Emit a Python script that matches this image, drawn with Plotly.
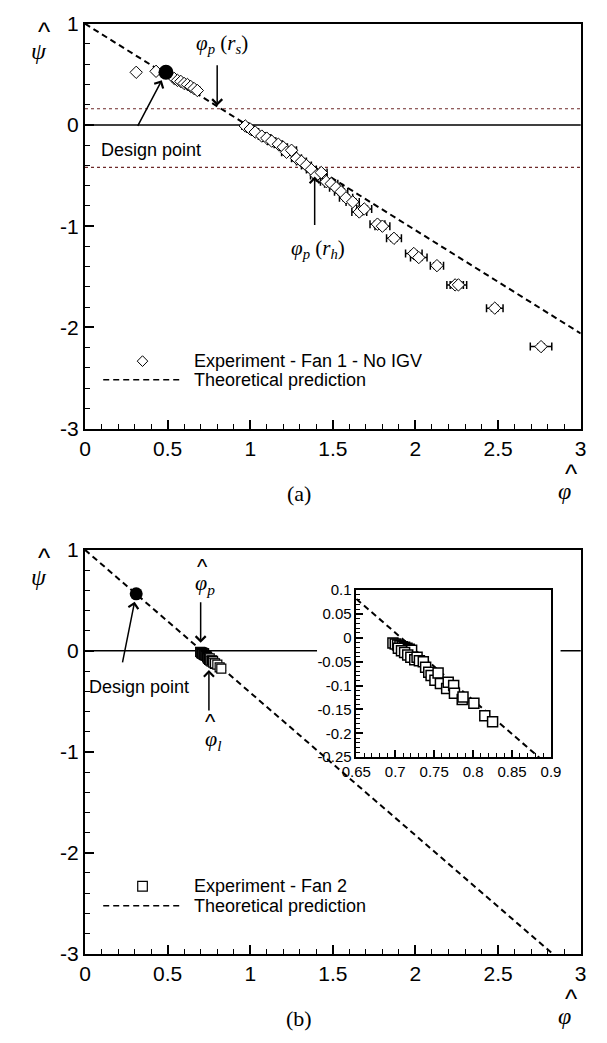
import plotly.graph_objects as go

W, H = 607, 1043

# ---------------- data ----------------
# (a) Fan 1, no IGV: flow coefficient vs. loading coefficient
phi_a = [0.31, 0.43, 0.54, 0.56, 0.58, 0.60, 0.62, 0.64, 0.66, 0.68,
         0.97, 1.00, 1.03, 1.07, 1.10, 1.13, 1.17, 1.20, 1.22, 1.25,
         1.28, 1.31, 1.34, 1.37, 1.40, 1.43, 1.46, 1.49, 1.52, 1.55,
         1.58, 1.62, 1.66, 1.69, 1.77, 1.80, 1.87, 1.99, 2.02, 2.13,
         2.24, 2.26, 2.48, 2.76]
psi_a = [0.52, 0.53, 0.46, 0.44, 0.43, 0.41, 0.40, 0.38, 0.36, 0.34,
         -0.01, -0.04, -0.07, -0.11, -0.13, -0.16, -0.19, -0.22, -0.27, -0.25,
         -0.33, -0.36, -0.40, -0.44, -0.50, -0.47, -0.56, -0.58, -0.62, -0.66,
         -0.72, -0.76, -0.86, -0.83, -0.98, -1.00, -1.12, -1.27, -1.31, -1.39,
         -1.58, -1.58, -1.81, -2.19]
phi_err_a = [0, 0, 0.012, 0.012, 0.012, 0.012, 0.012, 0.015, 0.015, 0.015,
             0.02, 0.02, 0.02, 0.02, 0.025, 0.025, 0.025, 0.025, 0.03, 0.03,
             0.03, 0.03, 0.03, 0.03, 0.035, 0.035, 0.035, 0.04, 0.04, 0.04,
             0.04, 0.04, 0.045, 0.045, 0.045, 0.045, 0.045, 0.05, 0.05, 0.04,
             0.05, 0.05, 0.05, 0.065]
psi_err_a = [0, 0] + [0.02] * 8 + [0.03] * 34

design_a = dict(phi=[0.49], psi=[0.52])
theory_a_phi = [0.0, 3.0]
theory_a_psi = [1.0, -2.06]
span_levels_a = [0.16, -0.42]

# (b) Fan 2
phi_b = [0.697, 0.700, 0.703, 0.706, 0.709, 0.712, 0.715, 0.718, 0.721, 0.704,
         0.708, 0.712, 0.716, 0.720, 0.725, 0.728, 0.731, 0.736, 0.739, 0.743,
         0.746, 0.751, 0.755, 0.758, 0.766, 0.768, 0.775, 0.776, 0.786, 0.787,
         0.801, 0.815, 0.825]
psi_b = [-0.011, -0.013, -0.015, -0.017, -0.019, -0.020, -0.022, -0.024, -0.026, -0.022,
         -0.027, -0.031, -0.036, -0.041, -0.046, -0.041, -0.048, -0.050, -0.062, -0.072,
         -0.079, -0.089, -0.074, -0.096, -0.106, -0.093, -0.100, -0.116, -0.129, -0.124,
         -0.137, -0.163, -0.176]
design_b = dict(phi=[0.31], psi=[0.565])
theory_b_phi = [0.0, 2.83]
theory_b_psi = [1.0, -3.0]

# ticks
main_xticks = [0, 0.5, 1, 1.5, 2, 2.5, 3]
main_xtext = ["0", "0.5", "1", "1.5", "2", "2.5", "3"]
main_yticks = [1, 0, -1, -2, -3]
main_ytext = ["1", "0", "-1", "-2", "-3"]
inset_xticks = [0.65, 0.7, 0.75, 0.8, 0.85, 0.9]
inset_xtext = ["0.65", "0.7", "0.75", "0.8", "0.85", "0.9"]
inset_yticks = [0.1, 0.05, 0, -0.05, -0.1, -0.15, -0.2, -0.25]
inset_ytext = ["0.1", "0.05", "0", "-0.05", "-0.1", "-0.15", "-0.2", "-0.25"]


# ---------------- helpers ----------------
def px(x):
    return x / W


def py(y):
    return 1 - y / H


SANS = "Liberation Sans, Arial, sans-serif"
SERIF = "Liberation Serif, Times New Roman, serif"
DASH = "6px,4px"

fig = go.Figure()

# ---------------- panel (a) ----------------
fig.add_trace(go.Scatter(
    x=theory_a_phi, y=theory_a_psi, mode="lines",
    line=dict(color="black", width=2, dash=DASH),
    xaxis="x", yaxis="y", showlegend=False, hoverinfo="skip"))
fig.add_trace(go.Scatter(
    x=phi_a, y=psi_a, mode="markers",
    marker=dict(symbol="diamond", size=9.5, color="white",
                line=dict(color="black", width=1)),
    error_x=dict(type="data", array=phi_err_a, color="black", thickness=1.5, width=4),
    error_y=dict(type="data", array=psi_err_a, color="black", thickness=1, width=4),
    xaxis="x", yaxis="y", showlegend=False))
fig.add_trace(go.Scatter(
    x=design_a["phi"], y=design_a["psi"], mode="markers",
    marker=dict(symbol="circle", size=15, color="black"),
    xaxis="x", yaxis="y", showlegend=False))

# ---------------- panel (b) ----------------
fig.add_trace(go.Scatter(
    x=theory_b_phi, y=theory_b_psi, mode="lines",
    line=dict(color="black", width=2, dash=DASH),
    xaxis="x2", yaxis="y2", showlegend=False, hoverinfo="skip"))
fig.add_trace(go.Scatter(
    x=phi_b, y=psi_b, mode="markers",
    marker=dict(symbol="square", size=9, color="white",
                line=dict(color="black", width=1.2)),
    xaxis="x2", yaxis="y2", showlegend=False))
fig.add_trace(go.Scatter(
    x=design_b["phi"], y=design_b["psi"], mode="markers",
    marker=dict(symbol="circle", size=13, color="black"),
    xaxis="x2", yaxis="y2", showlegend=False))

# ---------------- inset ----------------
fig.add_trace(go.Scatter(
    x=theory_b_phi, y=theory_b_psi, mode="lines",
    line=dict(color="black", width=2, dash=DASH),
    xaxis="x3", yaxis="y3", showlegend=False, hoverinfo="skip"))
fig.add_trace(go.Scatter(
    x=phi_b, y=psi_b, mode="markers",
    marker=dict(symbol="square", size=10, color="white",
                line=dict(color="black", width=1.5)),
    xaxis="x3", yaxis="y3", showlegend=False))

# ---------------- axes ----------------
main_x_dom = [px(73), px(590)]
axis_common = dict(
    showline=True, linecolor="black", linewidth=2, mirror=True,
    showgrid=False, zeroline=False, ticks="inside", tickcolor="black",
    tickwidth=1.5, ticklen=9,
    tickfont=dict(family=SANS, size=21, color="black"),
)


def main_x(anchor):
    return dict(axis_common, domain=main_x_dom, range=[0, 3], anchor=anchor,
                tickvals=main_xticks, ticktext=main_xtext,
                minor=dict(ticks="inside", ticklen=5, dtick=0.1, tick0=0,
                           tickcolor="black", tickwidth=1.2))


def main_y(anchor, dom):
    return dict(axis_common, domain=dom, range=[-3, 1], anchor=anchor,
                tickvals=main_yticks, ticktext=main_ytext,
                minor=dict(ticks="inside", ticklen=5, dtick=0.2, tick0=0,
                           tickcolor="black", tickwidth=1.2))


inset_common = dict(axis_common, linewidth=1.5, ticklen=7,
                    tickfont=dict(family=SANS, size=15, color="black"))

fig.update_layout(
    width=W, height=H,
    margin=dict(l=0, r=0, t=0, b=0),
    paper_bgcolor="white", plot_bgcolor="white",
    showlegend=False,
    xaxis=main_x("y"),
    yaxis=main_y("x", [py(426), py(12)]),
    xaxis2=main_x("y2"),
    yaxis2=main_y("x2", [py(963), py(550)]),
    xaxis3=dict(inset_common, domain=[px(356), px(559)], range=[0.65, 0.9],
                anchor="y3", tickvals=inset_xticks, ticktext=inset_xtext,
                minor=dict(ticks="inside", ticklen=4, dtick=0.01, tick0=0,
                           tickcolor="black", tickwidth=1)),
    yaxis3=dict(inset_common, domain=[py(762), py(591)], range=[-0.25, 0.1],
                anchor="x3", tickvals=inset_yticks, ticktext=inset_ytext,
                minor=dict(ticks="inside", ticklen=4, dtick=0.01, tick0=0,
                           tickcolor="black", tickwidth=1)),
)

# ---------------- reference lines ----------------
shapes = []
shapes.append(dict(type="line", xref="x domain", yref="y", x0=0, x1=1, y0=0, y1=0,
                   line=dict(color="black", width=1.5), layer="below"))
for lev in span_levels_a:
    shapes.append(dict(type="line", xref="x domain", yref="y", x0=0, x1=1,
                       y0=lev, y1=lev, line=dict(color="#6e2a2a", width=1.2, dash="3px,3px"),
                       layer="below"))
shapes.append(dict(type="line", xref="x2 domain", yref="y2", x0=0, x1=1, y0=0, y1=0,
                   line=dict(color="black", width=1.5), layer="below"))
# white backing behind the inset and its tick labels
shapes.append(dict(type="rect", xref="paper", yref="paper",
                   x0=px(315), x1=px(569), y0=py(787), y1=py(580),
                   fillcolor="white", line=dict(width=0), layer="below"))


# legend keys
def legend_block(y_marker, y_line, symbol, label):
    xc = 133
    if symbol == "diamond":
        r = 5.5
        path = (f"M {px(xc)},{py(y_marker - r)} L {px(xc + r)},{py(y_marker)} "
                f"L {px(xc)},{py(y_marker + r)} L {px(xc - r)},{py(y_marker)} Z")
        shapes.append(dict(type="path", xref="paper", yref="paper", path=path,
                           line=dict(color="black", width=1)))
    else:
        r = 5
        shapes.append(dict(type="rect", xref="paper", yref="paper",
                           x0=px(xc - r), x1=px(xc + r), y0=py(y_marker + r), y1=py(y_marker - r),
                           line=dict(color="black", width=1.2)))
    shapes.append(dict(type="line", xref="paper", yref="paper",
                       x0=px(92), x1=px(173), y0=py(y_line), y1=py(y_line),
                       line=dict(color="black", width=1.5, dash="6px,4px")))
    return [
        dict(x=px(185), y=py(y_marker), text=label),
        dict(x=px(185), y=py(y_line), text="Theoretical prediction"),
    ]


legend_texts = legend_block(357, 376, "diamond", "Experiment - Fan 1 - No IGV")
legend_texts += legend_block(894, 914, "square", "Experiment - Fan 2")

annotations = []
for t in legend_texts:
    annotations.append(dict(xref="paper", yref="paper", x=t["x"], y=t["y"], text=t["text"],
                            xanchor="left", yanchor="middle", showarrow=False,
                            font=dict(family=SANS, size=18, color="black")))


def label(xp, yp, text, size=22, family=SERIF, anchor="center"):
    annotations.append(dict(xref="paper", yref="paper", x=px(xp), y=py(yp), text=text,
                            xanchor=anchor, yanchor="middle", showarrow=False,
                            font=dict(family=family, size=size, color="black")))


def arrow(xref, yref, x, y, ax, ay, standoff=0):
    annotations.append(dict(xref=xref, yref=yref, x=x, y=y, ax=ax, ay=ay, text="",
                            showarrow=True, arrowhead=4, arrowsize=1.3, arrowwidth=1.5,
                            arrowcolor="black", standoff=standoff))


# axis symbols (hatted psi / phi)
for top, bottom in [(12, 426), (550, 963)]:
    label(31, top + 8, "^", size=26, family=SANS)
    label(25, top + 28, "<i>ψ</i>", size=24)
    label(580, bottom + 46, "^", size=26, family=SANS)
    label(573, bottom + 64, "<i>φ</i>", size=24)

label(296, 492, "(a)", size=22)
label(296, 1029, "(b)", size=22)

# panel (a) callouts
label(142, 141, "Design point", size=18, family=SANS)
arrow("x", "y", design_a["phi"][0], design_a["psi"][0], -29, 55, standoff=9)
label(216, 33, "<i>φ</i><sub><i>p</i></sub> (<i>r</i><sub><i>s</i></sub>)", size=21)
arrow("x", "y", 0.80, 0.19, 0, -42)
label(316, 242, "<i>φ</i><sub><i>p</i></sub> (<i>r</i><sub><i>h</i></sub>)", size=21)
arrow("x", "y", 1.39, -0.51, 0, 50)

# panel (b) callouts
label(129, 690, "Design point", size=18, family=SANS)
arrow("x2", "y2", design_b["phi"][0], design_b["psi"][0], -14, 70, standoff=8)
label(196, 567, "^", size=22, family=SANS)
label(198, 585, "<i>φ</i><sub><i>p</i></sub>", size=22)
arrow("x2", "y2", 0.70, 0.08, 0, -42)
label(204, 726, "^", size=22, family=SANS)
label(206, 744, "<i>φ</i><sub><i>l</i></sub>", size=22)
arrow("x2", "y2", 0.75, -0.19, 0, 42)

fig.update_layout(shapes=shapes, annotations=annotations)

fig.write_html("out.html")
